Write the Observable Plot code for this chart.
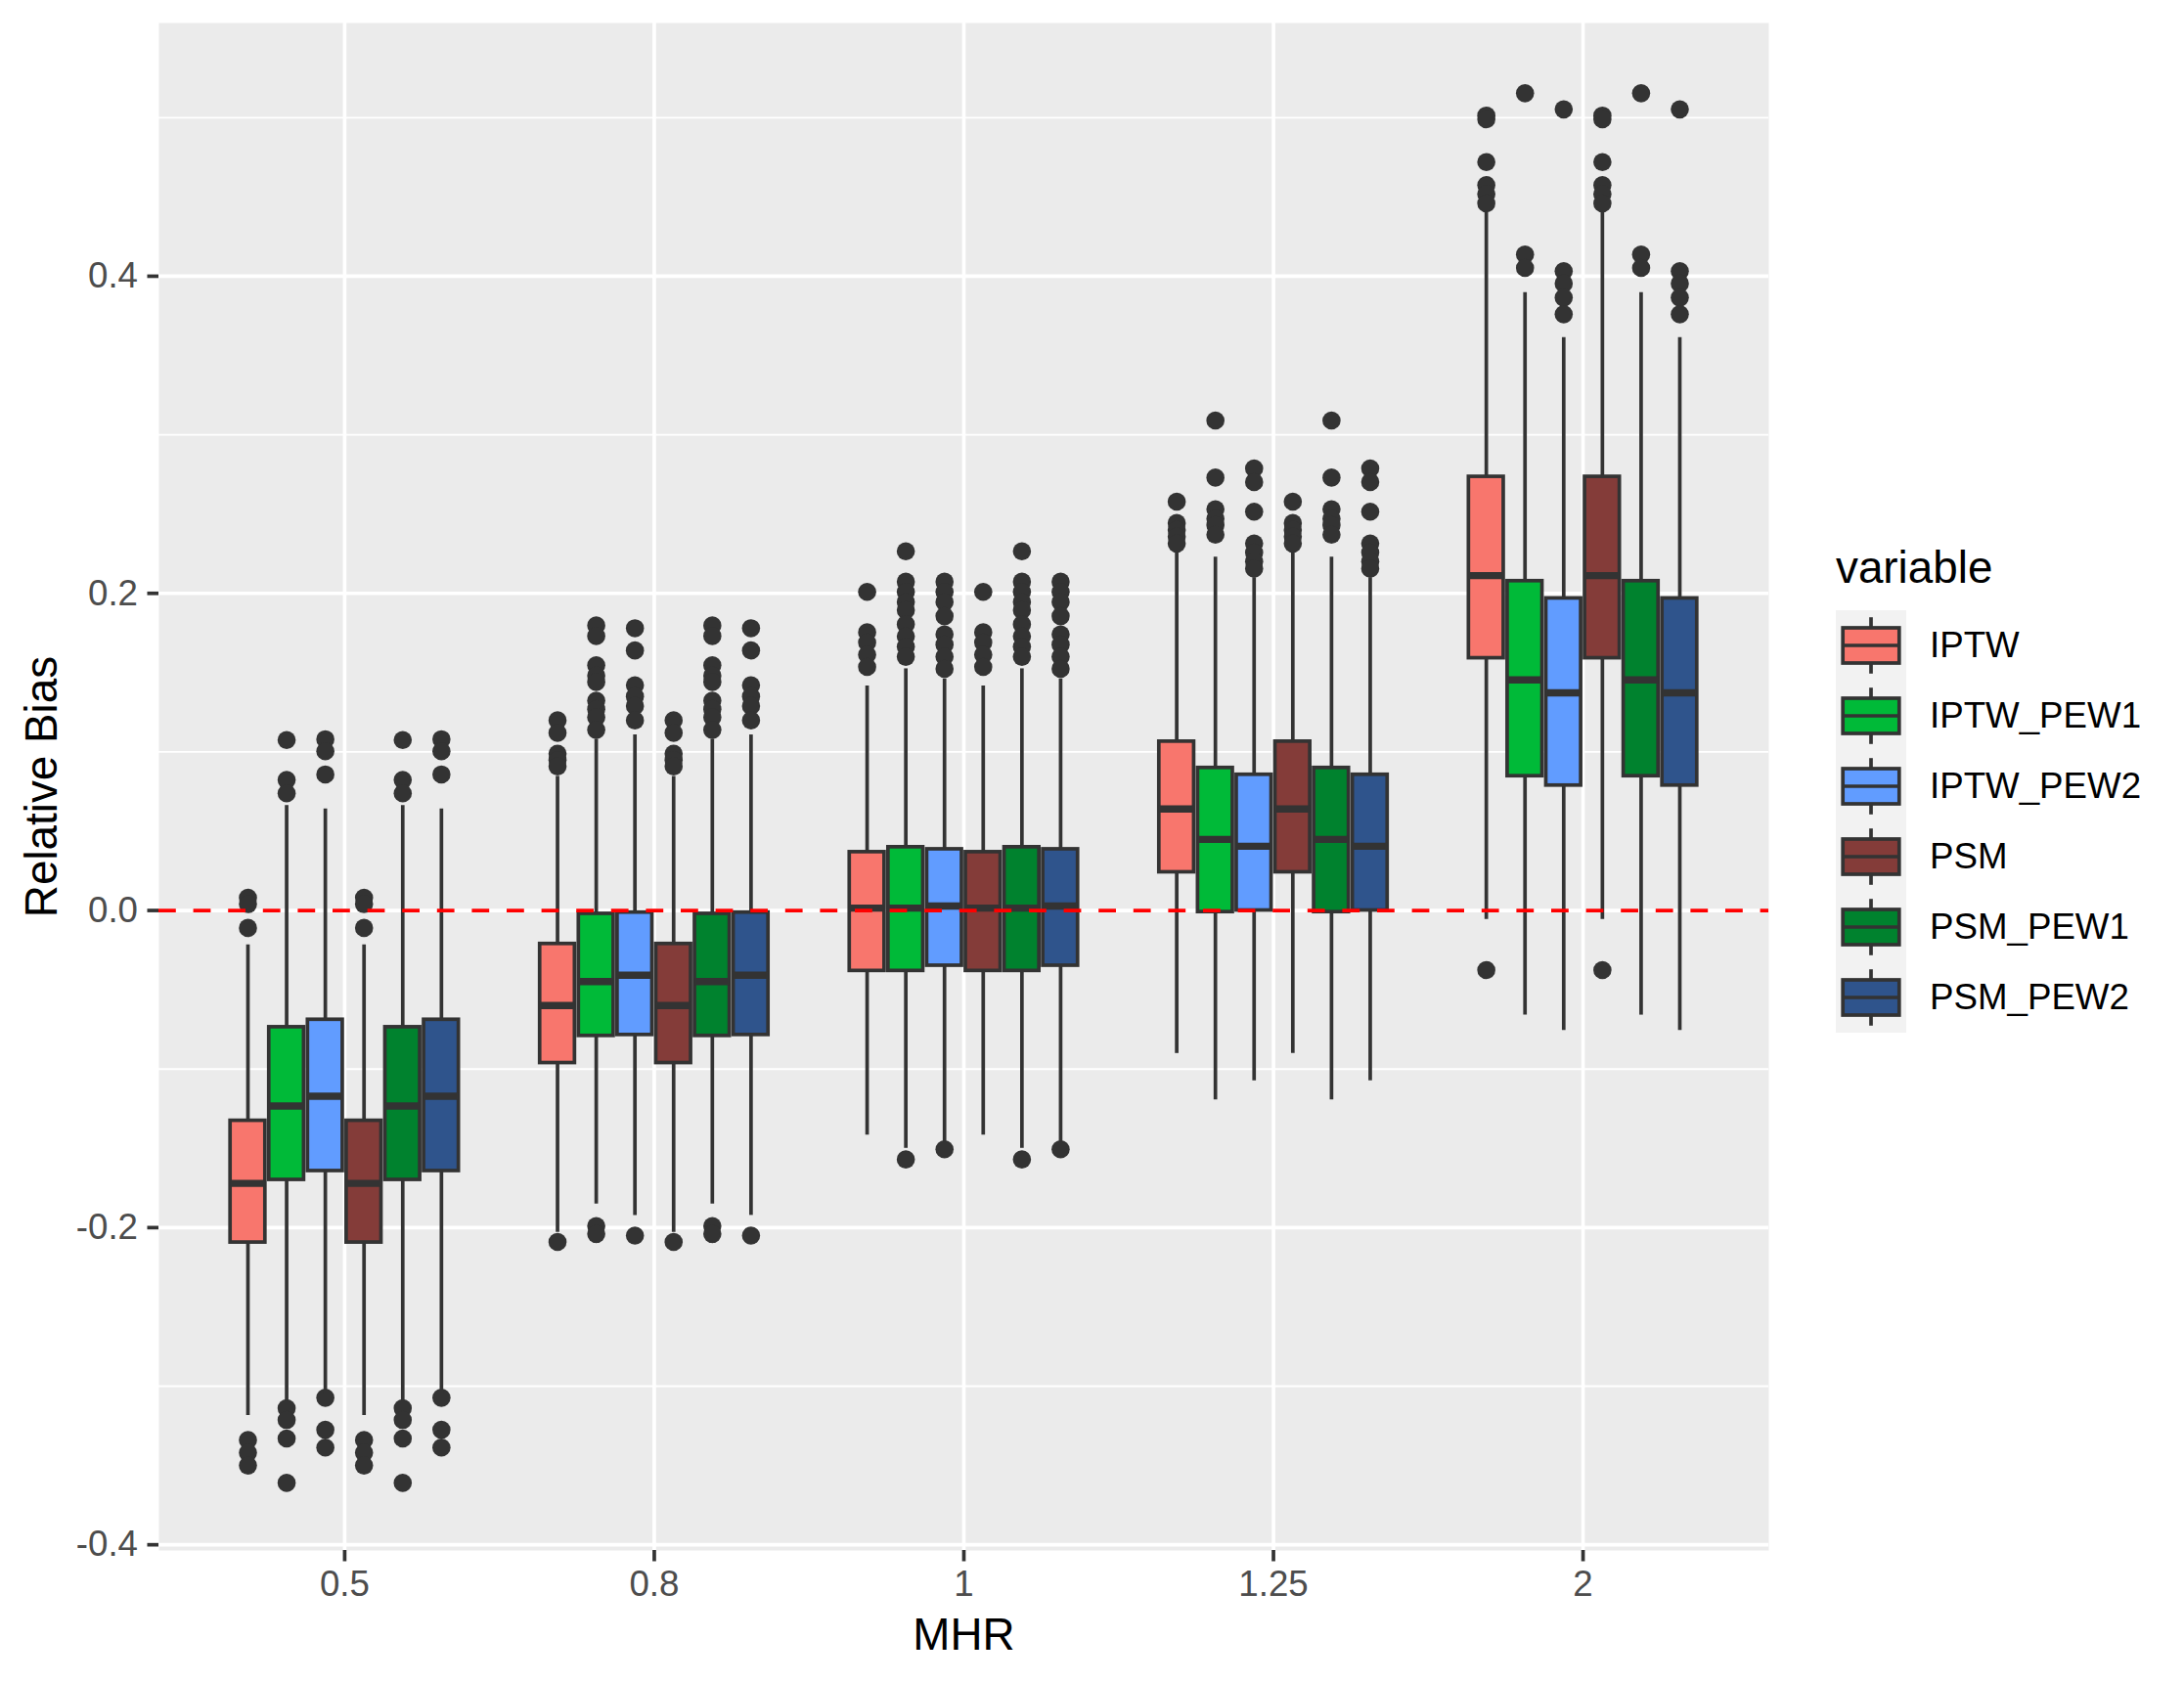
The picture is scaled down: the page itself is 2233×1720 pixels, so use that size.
<!DOCTYPE html>
<html>
<head>
<meta charset="utf-8">
<script src="https://cdn.jsdelivr.net/npm/d3@7"></script>
<script src="https://cdn.jsdelivr.net/npm/@observablehq/plot@0.6"></script>
<style>
  html, body { margin: 0; padding: 0; background: #ffffff; }
  #wrap { position: relative; width: 2233px; height: 1720px; font-family: "Liberation Sans", Arial, Helvetica, sans-serif; }
  #legend { position: absolute; left: 1877px; top: 558px; }
  #legend .title { font-size: 45.8px; color: #000; line-height: 1; margin-bottom: 20px; }
  #legend .row { display: flex; align-items: center; height: 72px; }
  #legend .row span { font-size: 36.7px; color: #000; margin-left: 24px; }
</style>
</head>
<body>
<div id="wrap"><div id="chart"></div><div id="legend"></div></div>
<script>
// ---- data ----
const mhr = ["0.5", "0.8", "1", "1.25", "2"];
const variables = ["IPTW", "IPTW_PEW1", "IPTW_PEW2", "PSM", "PSM_PEW1", "PSM_PEW2"];
const colors = ["#F8766D", "#00BA38", "#619CFF", "#843C39", "#00822E", "#2F548C"];

// each row: one variable, values per MHR level
const lowerWhisker = [
  [-0.3185, -0.2030, -0.1416, -0.0902, -0.0056],
  [-0.3098, -0.1852, -0.1500, -0.1194, -0.0660],
  [-0.3050, -0.1923, -0.1470, -0.1074, -0.0757],
  [-0.3185, -0.2030, -0.1416, -0.0902, -0.0056],
  [-0.3098, -0.1852, -0.1500, -0.1194, -0.0660],
  [-0.3050, -0.1923, -0.1470, -0.1074, -0.0757]
];
const q1 = [
  [-0.2094, -0.0962, -0.0381, 0.0241, 0.1591],
  [-0.1699, -0.0791, -0.0381, -0.0010, 0.0847],
  [-0.1643, -0.0785, -0.0348, 0.0000, 0.0788],
  [-0.2094, -0.0962, -0.0381, 0.0241, 0.1591],
  [-0.1699, -0.0791, -0.0381, -0.0010, 0.0847],
  [-0.1643, -0.0785, -0.0348, 0.0000, 0.0788]
];
const median = [
  [-0.1721, -0.0599, 0.0015, 0.0640, 0.2112],
  [-0.1233, -0.0448, 0.0015, 0.0448, 0.1454],
  [-0.1171, -0.0408, 0.0028, 0.0405, 0.1373],
  [-0.1721, -0.0599, 0.0015, 0.0640, 0.2112],
  [-0.1233, -0.0448, 0.0015, 0.0448, 0.1454],
  [-0.1171, -0.0408, 0.0028, 0.0405, 0.1373]
];
const q3 = [
  [-0.1326, -0.0211, 0.0368, 0.1065, 0.2735],
  [-0.0736, -0.0021, 0.0399, 0.0899, 0.2077],
  [-0.0689, -0.0013, 0.0386, 0.0856, 0.1968],
  [-0.1326, -0.0211, 0.0368, 0.1065, 0.2735],
  [-0.0736, -0.0021, 0.0399, 0.0899, 0.2077],
  [-0.0689, -0.0013, 0.0386, 0.0856, 0.1968]
];
const upperWhisker = [
  [-0.0217, 0.0846, 0.1416, 0.2257, 0.4402],
  [0.0662, 0.1080, 0.1524, 0.2228, 0.3896],
  [0.0640, 0.1107, 0.1460, 0.2099, 0.3612],
  [-0.0217, 0.0846, 0.1416, 0.2257, 0.4402],
  [0.0662, 0.1080, 0.1524, 0.2228, 0.3896],
  [0.0640, 0.1107, 0.1460, 0.2099, 0.3612]
];
const outliersIPTW = [
  [0.008, 0.004, -0.011, -0.334, -0.342, -0.350],
  [0.1199, 0.112, 0.0988, 0.0949, 0.0909, -0.209],
  [0.2009, 0.1754, 0.169, 0.1613, 0.1536],
  [0.2578, 0.2443, 0.240, 0.2357, 0.2314],
  [0.5013, 0.499, 0.472, 0.4575, 0.4517, 0.4459, -0.0376]
];
const outliersPEW1 = [
  [0.1075, 0.0823, 0.0739, -0.3139, -0.3213, -0.333, -0.361],
  [0.1797, 0.1731, 0.1547, 0.1481, 0.1441, 0.1323, 0.127, 0.1218, 0.1139, -0.199, -0.204],
  [0.2265, 0.2073, 0.2009, 0.1945, 0.1894, 0.1805, 0.1728, 0.1664, 0.160, -0.157],
  [0.309, 0.273, 0.253, 0.247, 0.243, 0.237],
  [0.5154, 0.4137, 0.4052]
];
const outliersPEW2 = [
  [0.108, 0.1004, 0.0858, -0.3073, -0.3275, -0.3387],
  [0.178, 0.164, 0.142, 0.135, 0.129, 0.1199, -0.205],
  [0.2073, 0.2009, 0.1945, 0.1856, 0.1741, 0.1677, 0.160, 0.1524, -0.1506],
  [0.2788, 0.2702, 0.2515, 0.2314, 0.2257, 0.220, 0.2156],
  [0.5052, 0.4032, 0.3954, 0.3865, 0.376]
];
const outliersPSM = outliersIPTW.map(a => a.slice());
const outliersPSM_PEW1 = outliersPEW1.map(a => a.slice());
const outliersPSM_PEW2 = outliersPEW2.map(a => a.slice());
const outliers = [outliersIPTW, outliersPEW1, outliersPEW2, outliersPSM, outliersPSM_PEW1, outliersPSM_PEW2];

const yMajor = [-0.4, -0.2, 0.0, 0.2, 0.4];
const yMinor = [-0.3, -0.1, 0.1, 0.3, 0.5];

// ---- build tables (dodge like ggplot: total width 0.75, box 90% of slot) ----
const dodge = 0.75, slot = dodge / variables.length, half = slot * 0.9 / 2;
const pos = (i, j) => i + (j - (variables.length - 1) / 2) * slot;
const boxes = [];
const points = [];
variables.forEach((v, j) => {
  mhr.forEach((m, i) => {
    boxes.push({variable: v, i, j, x: pos(i, j), lo: lowerWhisker[j][i], q1: q1[j][i], med: median[j][i], q3: q3[j][i], hi: upperWhisker[j][i]});
    outliers[j][i].forEach(y => points.push({variable: v, x: pos(i, j), y}));
  });
});
const xIdx = mhr.map((_, i) => i);

const LW = 3.7;
const chart = Plot.plot({
  width: 2233,
  height: 1720,
  marginLeft: 162,
  marginRight: 425,
  marginTop: 23,
  marginBottom: 135,
  style: {fontFamily: "'Liberation Sans', Arial, Helvetica, sans-serif", background: "#ffffff", overflow: "visible"},
  x: {domain: [-0.6, mhr.length - 1 + 0.6], label: null},
  y: {domain: [-0.4036, 0.5597], label: null},
  color: {domain: variables, range: colors},
  marks: [
    Plot.frame({fill: "#EBEBEB", stroke: null}),
    Plot.ruleY(yMinor, {stroke: "#ffffff", strokeWidth: LW / 2}),
    Plot.ruleY(yMajor, {stroke: "#ffffff", strokeWidth: LW}),
    Plot.ruleX(xIdx, {stroke: "#ffffff", strokeWidth: LW}),
    Plot.dot(points, {x: "x", y: "y", r: 9.3, fill: "#333333", stroke: null}),
    Plot.ruleX(boxes, {x: "x", y1: "lo", y2: "q1", stroke: "#333333", strokeWidth: LW}),
    Plot.ruleX(boxes, {x: "x", y1: "q3", y2: "hi", stroke: "#333333", strokeWidth: LW}),
    Plot.rect(boxes, {x1: d => d.x - half, x2: d => d.x + half, y1: "q1", y2: "q3", fill: "variable", stroke: "#333333", strokeWidth: LW}),
    Plot.ruleY(boxes, {x1: d => d.x - half, x2: d => d.x + half, y: "med", stroke: "#333333", strokeWidth: LW * 2}),
    Plot.ruleY([0], {stroke: "#FF0000", strokeWidth: LW, strokeDasharray: "17.8,17.8"}),
    Plot.axisX(xIdx, {tickFormat: i => mhr[i], tickSize: 11.5, tickPadding: 9, fontSize: 36.7, stroke: "#333333", fill: "#4D4D4D", strokeWidth: LW, label: null}),
    Plot.axisY(yMajor, {tickFormat: d => d.toFixed(1), tickSize: 11.5, tickPadding: 10, fontSize: 36.7, stroke: "#333333", fill: "#4D4D4D", strokeWidth: LW, label: null}),
    Plot.text(["MHR"], {frameAnchor: "bottom", textAnchor: "middle", lineAnchor: "middle", dy: 87, fontSize: 45.8, fill: "#000000"}),
    Plot.text(["Relative Bias"], {frameAnchor: "left", textAnchor: "middle", lineAnchor: "middle", dx: -118.7, rotate: -90, fontSize: 45.8, fill: "#000000"})
  ]
});
document.getElementById("chart").appendChild(chart);

// ---- legend (ggplot-style boxplot keys) ----
const legend = d3.select("#legend");
legend.append("div").attr("class", "title").text("variable");
variables.forEach((v, j) => {
  const row = legend.append("div").attr("class", "row");
  const s = row.append("svg").attr("width", 72).attr("height", 72);
  s.append("rect").attr("width", 72).attr("height", 72).attr("fill", "#F2F2F2");
  s.append("line").attr("x1", 36).attr("x2", 36).attr("y1", 7.2).attr("y2", 64.8).attr("stroke", "#333333").attr("stroke-width", LW);
  s.append("rect").attr("x", 7.2).attr("y", 18).attr("width", 57.6).attr("height", 36)
    .attr("fill", colors[j]).attr("stroke", "#333333").attr("stroke-width", LW);
  s.append("line").attr("x1", 7.2).attr("x2", 64.8).attr("y1", 36).attr("y2", 36).attr("stroke", "#333333").attr("stroke-width", LW);
  row.append("span").text(v);
});
</script>
</body>
</html>
